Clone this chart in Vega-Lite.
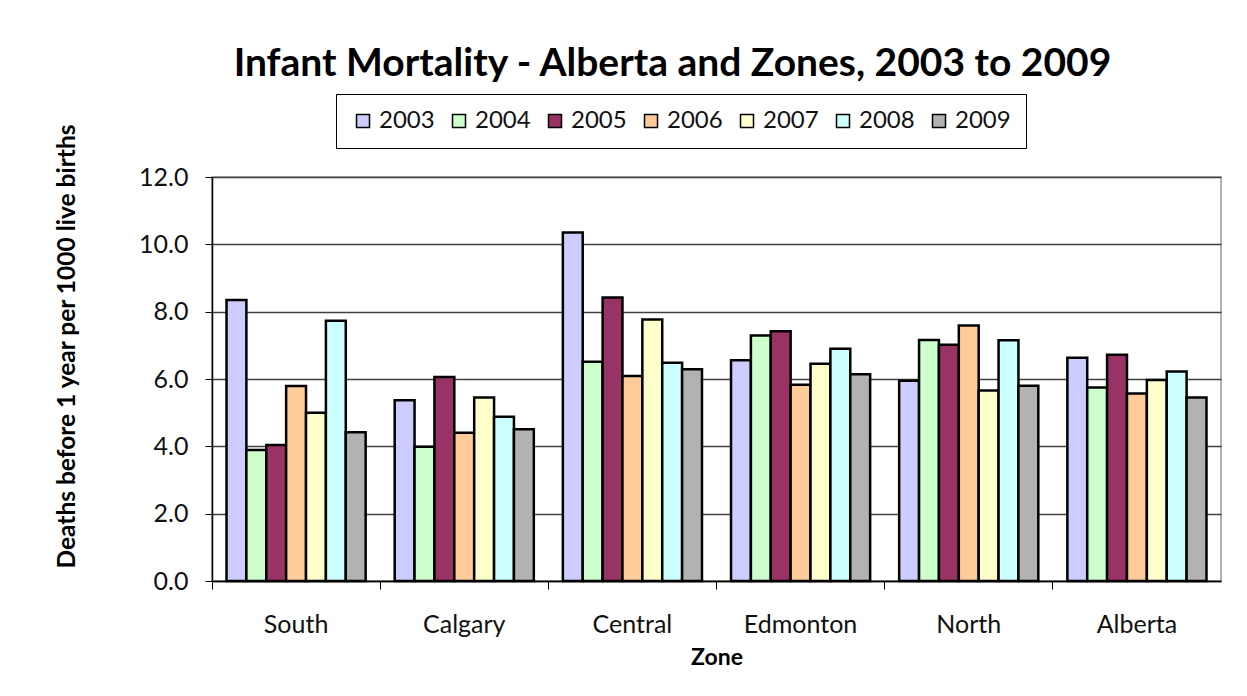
{
  "$schema": "https://vega.github.io/schema/vega-lite/v6.json",
  "width": 1009,
  "height": 404,
  "autosize": "none",
  "padding": {"left": 212, "top": 177, "right": 26, "bottom": 115},
  "background": "white",
  "title": {
    "text": "Infant Mortality - Alberta and Zones, 2003 to 2009",
    "font": "Lato",
    "fontSize": 39,
    "fontWeight": "bold",
    "color": "black",
    "anchor": "middle",
    "dx": -44,
    "offset": 10
  },
  "data": {
    "values": [
      {"zone": "South", "year": "2003", "value": 8.35},
      {"zone": "South", "year": "2004", "value": 3.89},
      {"zone": "South", "year": "2005", "value": 4.04},
      {"zone": "South", "year": "2006", "value": 5.79},
      {"zone": "South", "year": "2007", "value": 5.0},
      {"zone": "South", "year": "2008", "value": 7.73},
      {"zone": "South", "year": "2009", "value": 4.42},
      {"zone": "Calgary", "year": "2003", "value": 5.37},
      {"zone": "Calgary", "year": "2004", "value": 3.99},
      {"zone": "Calgary", "year": "2005", "value": 6.06},
      {"zone": "Calgary", "year": "2006", "value": 4.4},
      {"zone": "Calgary", "year": "2007", "value": 5.45},
      {"zone": "Calgary", "year": "2008", "value": 4.88},
      {"zone": "Calgary", "year": "2009", "value": 4.51},
      {"zone": "Central", "year": "2003", "value": 10.35},
      {"zone": "Central", "year": "2004", "value": 6.51},
      {"zone": "Central", "year": "2005", "value": 8.42},
      {"zone": "Central", "year": "2006", "value": 6.09},
      {"zone": "Central", "year": "2007", "value": 7.77},
      {"zone": "Central", "year": "2008", "value": 6.48},
      {"zone": "Central", "year": "2009", "value": 6.29},
      {"zone": "Edmonton", "year": "2003", "value": 6.56},
      {"zone": "Edmonton", "year": "2004", "value": 7.29},
      {"zone": "Edmonton", "year": "2005", "value": 7.42},
      {"zone": "Edmonton", "year": "2006", "value": 5.83},
      {"zone": "Edmonton", "year": "2007", "value": 6.45},
      {"zone": "Edmonton", "year": "2008", "value": 6.9},
      {"zone": "Edmonton", "year": "2009", "value": 6.14},
      {"zone": "North", "year": "2003", "value": 5.95},
      {"zone": "North", "year": "2004", "value": 7.16},
      {"zone": "North", "year": "2005", "value": 7.02},
      {"zone": "North", "year": "2006", "value": 7.59},
      {"zone": "North", "year": "2007", "value": 5.66},
      {"zone": "North", "year": "2008", "value": 7.15},
      {"zone": "North", "year": "2009", "value": 5.8},
      {"zone": "Alberta", "year": "2003", "value": 6.63},
      {"zone": "Alberta", "year": "2004", "value": 5.75},
      {"zone": "Alberta", "year": "2005", "value": 6.72},
      {"zone": "Alberta", "year": "2006", "value": 5.57},
      {"zone": "Alberta", "year": "2007", "value": 5.97},
      {"zone": "Alberta", "year": "2008", "value": 6.22},
      {"zone": "Alberta", "year": "2009", "value": 5.45}
    ]
  },
  "mark": {"type": "bar", "stroke": "black", "strokeWidth": 2.5},
  "encoding": {
    "x": {
      "field": "zone",
      "type": "nominal",
      "sort": ["South", "Calgary", "Central", "Edmonton", "North", "Alberta"],
      "scale": {"paddingInner": 0, "paddingOuter": 0},
      "axis": {
        "title": "Zone",
        "labelAngle": 0,
        "bandPosition": 0,
        "tickSize": 8,
        "tickColor": "black",
        "domainColor": "black",
        "domainWidth": 1.5,
        "labelPadding": 23,
        "labelFont": "Lato",
        "labelFontSize": 25,
        "labelColor": "#111",
        "titleFont": "Lato",
        "titleFontSize": 23,
        "titleFontWeight": "bold",
        "titleColor": "black",
        "titlePadding": 9
      }
    },
    "xOffset": {
      "field": "year",
      "type": "nominal",
      "scale": {"paddingInner": 0, "paddingOuter": 0.73}
    },
    "y": {
      "field": "value",
      "type": "quantitative",
      "scale": {"domain": [0, 12], "nice": false},
      "axis": {
        "title": "Deaths before 1 year per 1000 live births",
        "values": [0, 2, 4, 6, 8, 10, 12],
        "format": ".1f",
        "tickSize": 7,
        "tickColor": "black",
        "domainColor": "black",
        "domainWidth": 1.5,
        "grid": true,
        "gridColor": "#404040",
        "gridWidth": 1.5,
        "labelPadding": 17,
        "labelFont": "Lato",
        "labelFontSize": 25,
        "labelColor": "#111",
        "titleFont": "Lato",
        "titleFontSize": 24.5,
        "titleFontWeight": "bold",
        "titleColor": "black",
        "titlePadding": 59,
        "titleY": 169
      }
    },
    "fill": {
      "field": "year",
      "type": "nominal",
      "scale": {
        "domain": ["2003", "2004", "2005", "2006", "2007", "2008", "2009"],
        "range": ["#CCCCFF", "#CCFFCC", "#993366", "#FFCC99", "#FFFFCC", "#CCFFFF", "#B2B2B2"]
      },
      "legend": {
        "title": null,
        "orient": "none",
        "legendX": 124,
        "legendY": -83,
        "direction": "horizontal",
        "columns": 7,
        "symbolType": "square",
        "symbolSize": 169,
        "symbolStrokeColor": "black",
        "symbolStrokeWidth": 1.5,
        "strokeColor": "black",
        "fillColor": "white",
        "padding": 15,
        "labelFont": "Lato",
        "labelFontSize": 24,
        "labelColor": "#111",
        "labelOffset": 4,
        "columnPadding": 12
      }
    }
  },
  "config": {
    "view": {"stroke": "#999999", "strokeWidth": 1.5},
    "axis": {"gridColor": "#404040"}
  }
}
